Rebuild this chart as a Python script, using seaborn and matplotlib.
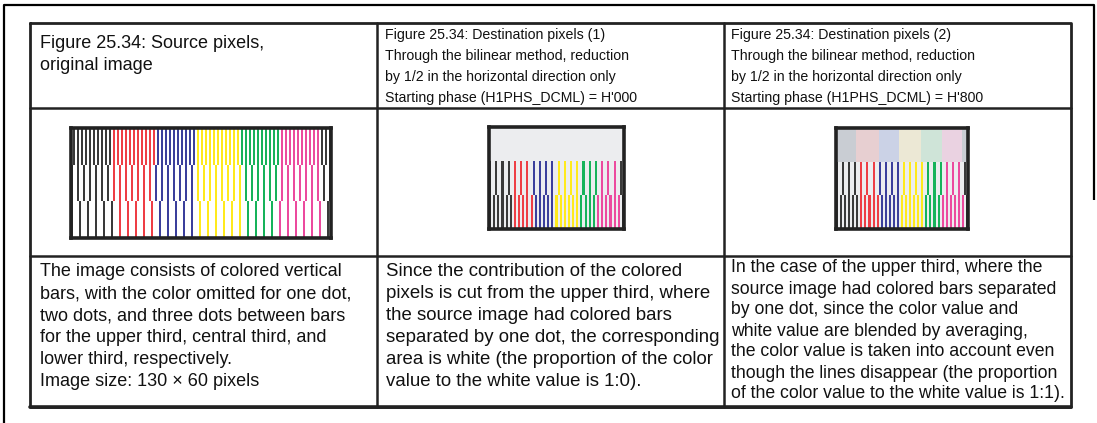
import numpy as np
import matplotlib
matplotlib.use("Agg")
import matplotlib.pyplot as plt
import seaborn as sns
from matplotlib.colors import ListedColormap

# ----------- Data -----------
# colour sections of the source image, left to right, and their widths in pixels
section_colors = ["black", "red", "blue", "yellow", "green", "magenta", "black"]
section_widths = [21, 21, 21, 22, 19, 21, 5]
# bar spacing (pixels) and offset in the upper, central and lower third
band_pitch = [2, 3, 4]
band_offset = [1, 0, 0]
band_rows = [20, 20, 20]

full_colors = {"black": "#3a3a3a", "red": "#ee3e45", "blue": "#3b3f9c",
               "yellow": "#ffea1c", "green": "#16b35a", "magenta": "#ec4a9e"}
pale_colors = {"black": "#c9cdd3", "red": "#e7cfd1", "blue": "#cbd2e6",
               "yellow": "#ece8d5", "green": "#cfe4d8", "magenta": "#ead2e1"}
white = "#ffffff"
dest_white = "#ecedef"

header_src = ["Figure 25.34: Source pixels,", "original image"]
header_d1 = ["Figure 25.34: Destination pixels (1)",
             "Through the bilinear method, reduction",
             "by 1/2 in the horizontal direction only",
             "Starting phase (H1PHS_DCML) = H'000"]
header_d2 = ["Figure 25.34: Destination pixels (2)",
             "Through the bilinear method, reduction",
             "by 1/2 in the horizontal direction only",
             "Starting phase (H1PHS_DCML) = H'800"]
body_src = ["The image consists of colored vertical",
            "bars, with the color omitted for one dot,",
            "two dots, and three dots between bars",
            "for the upper third, central third, and",
            "lower third, respectively.",
            "Image size: 130 \u00d7 60 pixels"]
body_d1 = ["Since the contribution of the colored",
           "pixels is cut from the upper third, where",
           "the source image had colored bars",
           "separated by one dot, the corresponding",
           "area is white (the proportion of the color",
           "value to the white value is 1:0)."]
body_d2 = ["In the case of the upper third, where the",
           "source image had colored bars separated",
           "by one dot, since the color value and",
           "white value are blended by averaging,",
           "the color value is taken into account even",
           "though the lines disappear (the proportion",
           "of the color value to the white value is 1:1)."]

# ----------- Build pixel images -----------
names = list(full_colors.keys())
palette = [white, dest_white] + [full_colors[n] for n in names] + [pale_colors[n] for n in names]
full_idx = {n: 2 + i for i, n in enumerate(names)}
pale_idx = {n: 2 + len(names) + i for i, n in enumerate(names)}

col_name = np.repeat(np.array(section_colors), section_widths)
n_cols = len(col_name)
cols = np.arange(n_cols)

src_rows = []
for pitch, off, nr in zip(band_pitch, band_offset, band_rows):
    row = np.where((cols - off) % pitch == 0, [full_idx[n] for n in col_name], 0)
    src_rows += [row] * nr
src = np.array(src_rows)

# reduction by 1/2, phase 0: take every even pixel
dest1 = src[:, ::2].copy()
dest1[dest1 == 0] = 1
# phase 0.5: upper third averages the colour pixel with its white neighbour
dest2 = dest1.copy()
pale_row = [pale_idx[n] for n in col_name[1::2]]
pale_row += [pale_idx[col_name[-1]]] * (dest1.shape[1] - len(pale_row))
dest2[:band_rows[0], :] = pale_row

# ----------- Figure -----------
sns.set_theme(style="white")
plt.rcParams["font.family"] = ["Liberation Sans", "DejaVu Sans"]
W, H = 1097, 423
fig = plt.figure(figsize=(W / 100, H / 100), dpi=100)
ax = fig.add_axes([0, 0, 1, 1])
ax.set_xlim(0, W)
ax.set_ylim(H, 0)
ax.axis("off")

# outer page frame
ax.plot([4, 4, 1094, 1094], [430, 5, 5, 200], color="black", lw=1.6, solid_capstyle="butt")

# table grid
left, right, top, bottom = 30, 1071, 23, 407
col_x = [377, 724]
row_y = [108, 256]
lc = "#222222"
ax.plot([left, right, right, left, left], [top, top, bottom, bottom, top], color=lc, lw=2.0)
ax.plot([left, right], [bottom, bottom], color=lc, lw=2.6)
for x in col_x:
    ax.plot([x, x], [top, bottom], color=lc, lw=1.8)
for y in row_y:
    ax.plot([left, right], [y, y], color=lc, lw=1.8)

# pixel images
cmap = ListedColormap(palette)
boxes = [(src, (71, 128, 331, 238)), (dest1, (489, 127, 624, 229)), (dest2, (836, 128, 968, 229))]
for img, (x0, y0, x1, y1) in boxes:
    iax = fig.add_axes([x0 / W, 1 - y1 / H, (x1 - x0) / W, (y1 - y0) / H])
    sns.heatmap(img, ax=iax, cmap=cmap, vmin=-0.5, vmax=len(palette) - 0.5,
                cbar=False, xticklabels=False, yticklabels=False)
    for s in iax.spines.values():
        s.set_visible(True)
        s.set_color("#222222")
        s.set_linewidth(2.6)

# texts
sans = ["Liberation Sans", "DejaVu Sans"]


def put_lines(lines, x, y0, dy, size):
    for i, t in enumerate(lines):
        ax.text(x, y0 + i * dy, t, fontsize=size, family=sans, va="center", ha="left", color="#111111")


put_lines(header_src, 40, 44, 22, 13)
put_lines(header_d1, 385, 35, 21, 10.2)
put_lines(header_d2, 731, 35, 21, 10.2)
put_lines(body_src, 40, 272, 22, 13.0)
put_lines(body_d1, 386, 272, 22, 13.4)
put_lines(body_d2, 731, 268, 21, 12.7)

fig.savefig("out.png", dpi=100)
plt.close(fig)
